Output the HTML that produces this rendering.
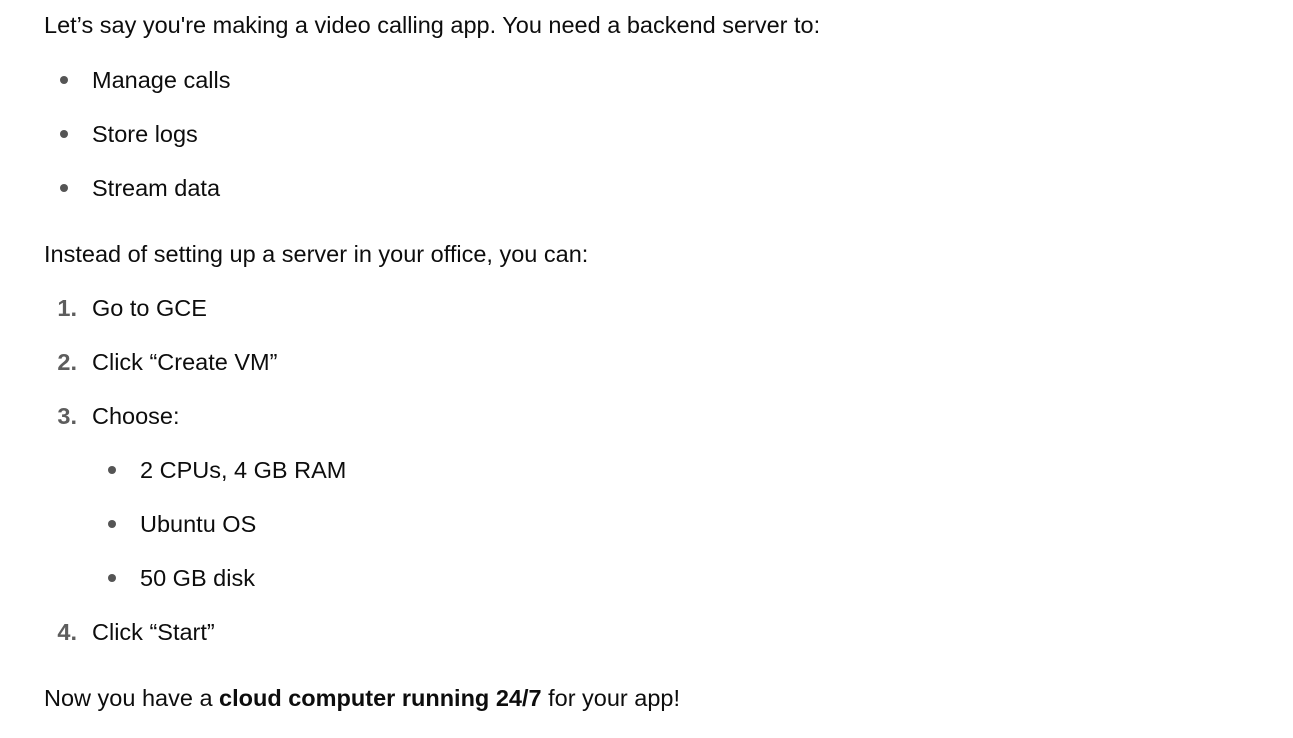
<!DOCTYPE html>
<html><head><meta charset="utf-8"><style>
html,body{margin:0;padding:0;background:#fff;}
body{width:1293px;height:738px;position:relative;overflow:hidden;font-family:"Liberation Sans",sans-serif;font-size:23.5px;color:#0d0d0d;}
.l{position:absolute;line-height:30px;white-space:nowrap;}
.b{position:absolute;width:8px;height:8px;border-radius:50%;background:#555;}
.n{position:absolute;line-height:30px;font-weight:bold;color:#5d5d5d;width:22px;text-align:right;}
</style></head><body>
<div class="l" style="left:44px;top:10px">Let’s say you're making a video calling app. You need a backend server to:</div>
<div class="b" style="left:60px;top:76px"></div><div class="l" style="left:92px;top:65px">Manage calls</div>
<div class="b" style="left:60px;top:130px"></div><div class="l" style="left:92px;top:119px">Store logs</div>
<div class="b" style="left:60px;top:184px"></div><div class="l" style="left:92px;top:173px">Stream data</div>
<div class="l" style="left:44px;top:239px">Instead of setting up a server in your office, you can:</div>
<div class="n" style="left:55px;top:293px">1.</div><div class="l" style="left:92px;top:293px">Go to GCE</div>
<div class="n" style="left:55px;top:347px">2.</div><div class="l" style="left:92px;top:347px">Click “Create VM”</div>
<div class="n" style="left:55px;top:401px">3.</div><div class="l" style="left:92px;top:401px">Choose:</div>
<div class="b" style="left:108px;top:466px"></div><div class="l" style="left:140px;top:455px">2 CPUs, 4 GB RAM</div>
<div class="b" style="left:108px;top:520px"></div><div class="l" style="left:140px;top:509px">Ubuntu OS</div>
<div class="b" style="left:108px;top:574px"></div><div class="l" style="left:140px;top:563px">50 GB disk</div>
<div class="n" style="left:55px;top:617px">4.</div><div class="l" style="left:92px;top:617px">Click “Start”</div>
<div class="l" style="left:44px;top:683px">Now you have a <b>cloud computer running 24/7</b> for your app!</div>
</body></html>
